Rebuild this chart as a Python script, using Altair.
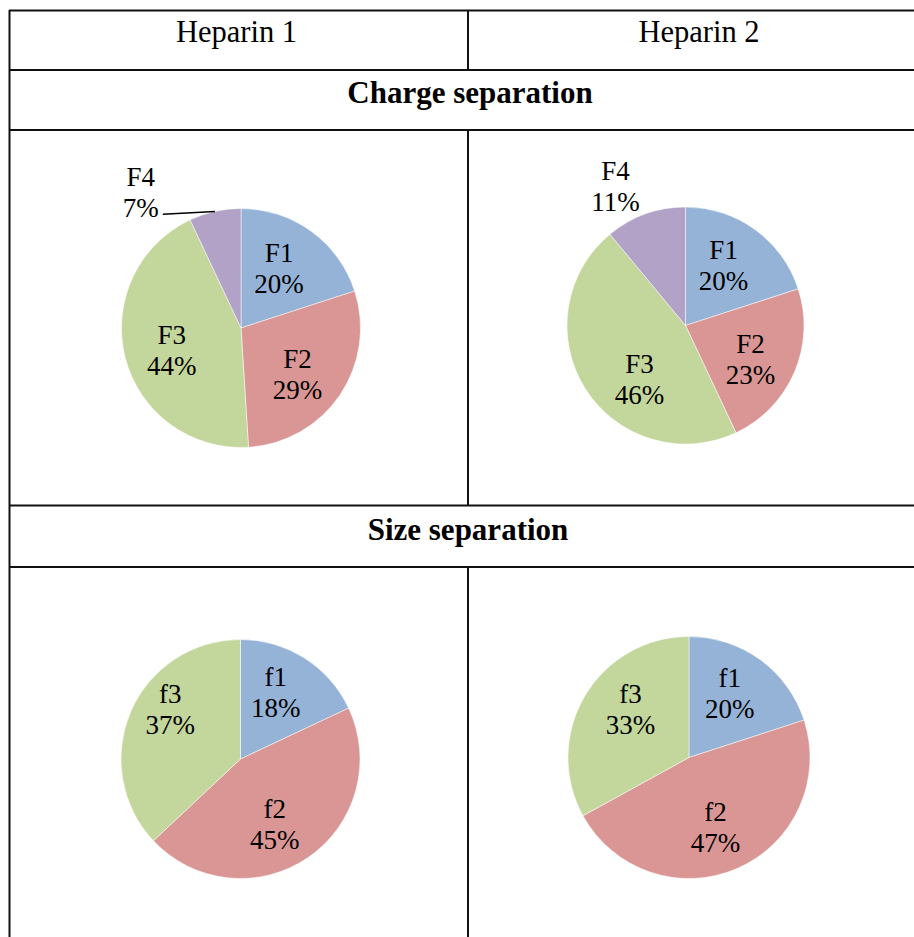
import math
import altair as alt
import pandas as pd

# Fraction shares (percent of total) for each heparin preparation
charge_names = ["F1", "F2", "F3", "F4"]
size_names = ["f1", "f2", "f3"]
heparin1_charge = [20, 29, 44, 7]
heparin2_charge = [20, 23, 46, 11]
heparin1_size = [18, 45, 37]
heparin2_size = [20, 47, 33]

col_headers = ["Heparin 1", "Heparin 2"]
section_titles = ["Charge separation", "Size separation"]

slice_colors = ["#95B3D7", "#D99694", "#C3D69B", "#B3A2C7"]

W, H = 914, 937
FONT = "Liberation Serif"

# pie placement inside the table cells (pixels)
pie_cx = [241, 685.5, 240.5, 689]
pie_cy = [328, 325.5, 759, 757.5]
pie_r = [119.5, 118.5, 119.5, 121]

# label distance from the pie centre and angular nudge (degrees) from the slice middle
label_dist = [[70, 74, 73, 168], [70, 74, 72, 155], [74, 75, 85], [75, 76, 75]]
label_nudge = [[-3, 6, -4, -24], [-3, 5, -18, -7], [-4, 7, 11], [-3, 3, 8]]
leader = [[False, False, False, True], [False] * 4, [False] * 3, [False] * 3]

LINE_H = 31

series = [
    (charge_names, heparin1_charge),
    (charge_names, heparin2_charge),
    (size_names, heparin1_size),
    (size_names, heparin2_size),
]

rows = []
for p, (names, values) in enumerate(series):
    for i, (n, v) in enumerate(zip(names, values)):
        rows.append({
            "pie": p, "idx": i, "name": n, "key": str(i + 1), "value": v,
            "cx": pie_cx[p], "cy": pie_cy[p], "r": pie_r[p],
            "ld": label_dist[p][i], "nudge": label_nudge[p][i],
            "leader": leader[p][i],
        })
slices = pd.DataFrame(rows)

# table ruling: (x, y, x2, y2)
grid = pd.DataFrame([
    {"x": 9, "y": 10.5, "x2": W, "y2": 10.5},
    {"x": 9, "y": 70, "x2": W, "y2": 70},
    {"x": 9, "y": 130, "x2": W, "y2": 130},
    {"x": 9, "y": 505.5, "x2": W, "y2": 505.5},
    {"x": 9, "y": 567, "x2": W, "y2": 567},
    {"x": 9.5, "y": 10, "x2": 9.5, "y2": H},
    {"x": 468, "y": 10, "x2": 468, "y2": 70},
    {"x": 468, "y": 130, "x2": 468, "y2": 505.5},
    {"x": 468, "y": 567, "x2": 468, "y2": H},
])

headers = pd.DataFrame({"text": col_headers, "x": [236.5, 699], "y": [41.5, 41.5]})
sections = pd.DataFrame({"text": section_titles, "x": [470, 468], "y": [103, 540]})

xs = alt.Scale(domain=[0, W], nice=False, zero=False)
ys = alt.Scale(domain=[0, H], nice=False, zero=False, reverse=True)
ts = alt.Scale(domain=[0, 100], range=[0, 2 * math.pi])

lines = alt.Chart(grid).mark_rule(color="#111111", strokeWidth=2).encode(
    x=alt.X("x:Q", scale=xs, axis=None),
    y=alt.Y("y:Q", scale=ys, axis=None),
    x2="x2:Q",
    y2="y2:Q",
)

head_text = alt.Chart(headers).mark_text(
    font=FONT, fontSize=30.5, color="black", baseline="alphabetic", align="center"
).encode(
    x=alt.X("x:Q", scale=xs, axis=None),
    y=alt.Y("y:Q", scale=ys, axis=None),
    text="text:N",
)

section_text = alt.Chart(sections).mark_text(
    font=FONT, fontSize=31, fontWeight="bold", color="black",
    baseline="alphabetic", align="center"
).encode(
    x=alt.X("x:Q", scale=xs, axis=None),
    y=alt.Y("y:Q", scale=ys, axis=None),
    text="text:N",
)

base = alt.Chart(slices).transform_window(
    end="sum(value)", groupby=["pie"], sort=[alt.SortField("idx")], frame=[None, 0]
).transform_calculate(
    start="datum.end - datum.value",
    mid="datum.end - datum.value / 2",
)

arcs = base.mark_arc(stroke="white", strokeWidth=0.5).encode(
    x=alt.X("cx:Q", scale=xs, axis=None),
    y=alt.Y("cy:Q", scale=ys, axis=None),
    theta=alt.Theta("start:Q", scale=ts, stack=None),
    theta2="end:Q",
    radius=alt.Radius("r:Q", scale=None),
    color=alt.Color("key:N", scale=alt.Scale(domain=["1", "2", "3", "4"], range=slice_colors), legend=None),
)

# two-line labels: name above, percentage below; dy centres the block on its anchor
labels = base.transform_calculate(
    la="datum.mid + datum.nudge / 3.6",
    txt="datum.name + '\\n' + datum.value + '%'",
).mark_text(
    font=FONT, fontSize=27, lineBreak="\n", lineHeight=LINE_H, dy=-LINE_H / 2,
    baseline="middle", align="center", color="black",
).encode(
    x=alt.X("cx:Q", scale=xs, axis=None),
    y=alt.Y("cy:Q", scale=ys, axis=None),
    theta=alt.Theta("la:Q", scale=ts, stack=None),
    radius=alt.Radius("ld:Q", scale=None),
    text="txt:N",
)

leaders = base.transform_filter("datum.leader").transform_calculate(
    a="datum.mid * 2 * PI / 100",
    b="(datum.mid + datum.nudge / 3.6) * 2 * PI / 100",
).transform_calculate(
    ex="datum.cx + datum.r * sin(datum.a)",
    ey="datum.cy - datum.r * cos(datum.a)",
    lx="datum.cx + datum.ld * sin(datum.b) + 22",
    ly="datum.cy - datum.ld * cos(datum.b) + 21",
).mark_rule(color="black", strokeWidth=1.5).encode(
    x=alt.X("lx:Q", scale=xs, axis=None),
    y=alt.Y("ly:Q", scale=ys, axis=None),
    x2="ex:Q",
    y2="ey:Q",
)

chart = alt.layer(lines, head_text, section_text, arcs, labels, leaders).properties(
    width=W, height=H, padding=0, autosize=alt.AutoSizeParams(type="none"),
    background="white",
).configure_view(stroke=None).configure_text(font=FONT)

chart.save("out.html", embed_options={"renderer": "svg", "actions": False})
